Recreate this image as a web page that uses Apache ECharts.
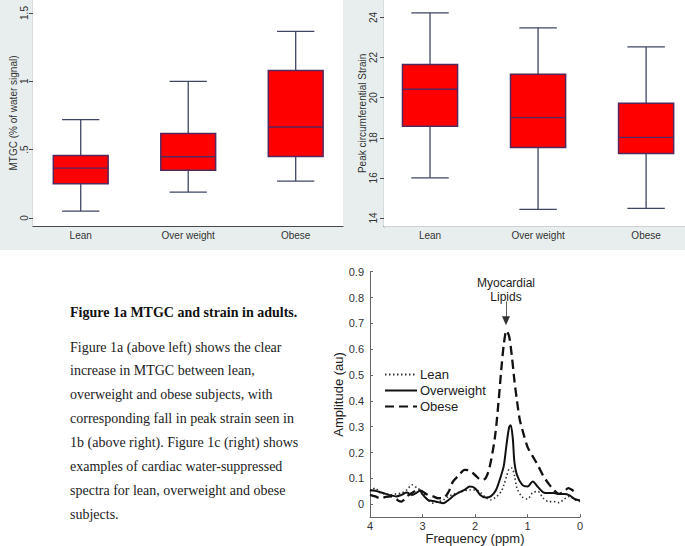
<!DOCTYPE html>
<html><head><meta charset="utf-8">
<script src="https://cdn.jsdelivr.net/npm/echarts@6/dist/echarts.min.js"></script>
<style>html,body{margin:0;padding:0;background:#fff}#c{width:685px;height:546px}</style>
</head><body><div id="c"></div>
<script>
// ---- data ----
const categories = ['Lean', 'Over weight', 'Obese'];
// Fig 1a: MTGC (% of water signal)
const mtgcLow  = [0.05, 0.19, 0.27];
const mtgcQ1   = [0.25, 0.35, 0.45];
const mtgcMed  = [0.365, 0.448, 0.666];
const mtgcQ3   = [0.457, 0.619, 1.079];
const mtgcHigh = [0.72, 1.0, 1.365];
const mtgcTicks = [0, 0.5, 1, 1.5];
const mtgcTickLabels = ['0', '.5', '1', '1.5'];
// Fig 1b: Peak circumferential strain
const strainLow  = [16.0, 14.43, 14.48];
const strainQ1   = [18.58, 17.52, 17.22];
const strainMed  = [20.42, 19.0, 18.02];
const strainQ3   = [21.65, 21.17, 19.72];
const strainHigh = [24.23, 23.48, 22.53];
const strainTicks = [14, 16, 18, 20, 22, 24];
// Fig 1c: spectra
const spectrumNames = ['Lean', 'Overweight', 'Obese'];
const ampTicks = [0, 0.1, 0.2, 0.3, 0.4, 0.5, 0.6, 0.7, 0.8, 0.9];
const leanPpm = [4.0,3.9,3.8,3.7,3.6,3.5,3.4,3.3,3.2,3.1,3.0,2.9,2.8,2.7,2.6,2.5,2.4,2.3,2.2,2.1,2.0,1.9,1.8,1.7,1.6,1.5,1.45,1.4,1.35,1.3,1.25,1.2,1.1,1.0,0.9,0.8,0.7,0.6,0.5,0.4,0.3,0.2,0.1,0.0];
const leanAmp = [0.049,0.062,0.043,0.040,0.036,0.040,0.043,0.055,0.075,0.062,0.049,0.017,0.004,0.010,0.017,0.030,0.039,0.046,0.052,0.055,0.055,0.046,0.026,0.017,0.028,0.049,0.075,0.107,0.136,0.140,0.113,0.062,0.028,0.020,0.045,0.049,0.023,0.010,0.010,0.006,0.020,0.030,0.017,0.010];
const owPpm = [4.0,3.9,3.8,3.7,3.6,3.5,3.4,3.3,3.2,3.1,3.05,3.0,2.9,2.8,2.7,2.6,2.5,2.4,2.3,2.2,2.1,2.0,1.9,1.8,1.7,1.6,1.5,1.45,1.4,1.35,1.32,1.28,1.25,1.2,1.1,1.0,0.9,0.8,0.7,0.6,0.5,0.4,0.3,0.2,0.1,0.0];
const owAmp = [0.055,0.052,0.046,0.040,0.034,0.030,0.036,0.045,0.036,0.046,0.053,0.038,0.017,0.012,0.008,0.004,0.017,0.034,0.046,0.055,0.068,0.062,0.036,0.026,0.030,0.055,0.113,0.150,0.230,0.298,0.306,0.255,0.165,0.113,0.075,0.068,0.088,0.066,0.046,0.043,0.043,0.039,0.039,0.034,0.020,0.014];
const obPpm = [4.0,3.9,3.8,3.7,3.6,3.5,3.45,3.4,3.3,3.2,3.1,3.0,2.9,2.8,2.7,2.6,2.5,2.42,2.3,2.2,2.1,2.0,1.88,1.8,1.72,1.62,1.55,1.5,1.45,1.4,1.35,1.3,1.25,1.2,1.15,1.1,1.0,0.9,0.8,0.7,0.6,0.5,0.4,0.3,0.22,0.15,0.07];
const obAmp = [0.036,0.030,0.023,0.028,0.030,0.020,0.012,0.010,0.030,0.043,0.055,0.049,0.036,0.030,0.023,0.024,0.049,0.087,0.113,0.133,0.130,0.113,0.094,0.100,0.145,0.260,0.400,0.520,0.620,0.672,0.650,0.577,0.480,0.400,0.330,0.290,0.222,0.185,0.150,0.110,0.080,0.055,0.040,0.050,0.062,0.055,0.044];
// caption text
const captionTitle = 'Figure 1a MTGC and strain in adults.';
const captionLines = [
  'Figure 1a (above left) shows the clear',
  'increase in MTGC between lean,',
  'overweight and obese subjects, with',
  'corresponding fall in peak strain seen in',
  '1b (above right). Figure 1c (right) shows',
  'examples of cardiac water-suppressed',
  'spectra for lean, overweight and obese',
  'subjects.'
];

// ---- build ----
const SANS = '"Liberation Sans", Arial, sans-serif';
const SERIF = '"Liberation Serif", "Times New Roman", serif';
const boxFill = '#ff0000', boxEdge = '#54285c', whisk = '#3e4663';

function boxData(lo, q1, md, q3, hi) {
  return categories.map((c, i) => [i + 1, lo[i], q1[i], md[i], q3[i], hi[i]]);
}
function renderBox(params, api) {
  const x = api.value(0);
  const lo = api.coord([x, api.value(1)]);
  const q1 = api.coord([x, api.value(2)]);
  const md = api.coord([x, api.value(3)]);
  const q3 = api.coord([x, api.value(4)]);
  const hi = api.coord([x, api.value(5)]);
  const cx = lo[0];
  const hw = api.size([0.51, 0])[0] / 2;
  const cw = hw * 0.68;
  const ws = { stroke: whisk, lineWidth: 1.3 };
  return { type: 'group', children: [
    { type: 'line', shape: { x1: cx, y1: q3[1], x2: cx, y2: hi[1] }, style: ws },
    { type: 'line', shape: { x1: cx - cw, y1: hi[1], x2: cx + cw, y2: hi[1] }, style: ws },
    { type: 'line', shape: { x1: cx, y1: q1[1], x2: cx, y2: lo[1] }, style: ws },
    { type: 'line', shape: { x1: cx - cw, y1: lo[1], x2: cx + cw, y2: lo[1] }, style: ws },
    { type: 'rect', shape: { x: cx - hw, y: q3[1], width: 2 * hw, height: q1[1] - q3[1] },
      style: { fill: boxFill, stroke: boxEdge, lineWidth: 1.5 } },
    { type: 'line', shape: { x1: cx - hw, y1: md[1], x2: cx + hw, y2: md[1] },
      style: { stroke: boxEdge, lineWidth: 1.3 } }
  ]};
}
function pairs(xs, ys) { return xs.map((x, i) => [x, ys[i]]); }

const boxXAxis = (idx, min, max) => ({
  gridIndex: idx, type: 'value', min: min, max: max,
  axisLine: { show: true, onZero: false, lineStyle: { color: '#4a4a4a', width: 1.2 } },
  axisTick: { show: false },
  splitLine: { show: false },
  axisLabel: { customValues: [1, 2, 3], formatter: v => categories[Math.round(v) - 1],
    color: '#333', fontFamily: SANS, fontSize: 10, margin: 4 }
});
const boxYAxis = (idx, min, max, ticks, fmt, name, gap, margin) => ({
  gridIndex: idx, type: 'value', min: min, max: max,
  name: name, nameLocation: 'middle', nameGap: gap,
  nameTextStyle: { color: '#333', fontFamily: SANS, fontSize: 10 },
  axisLine: { show: true, onZero: false, lineStyle: { color: '#4a4a4a', width: 1.2 } },
  axisTick: { show: true, customValues: ticks, length: 4, lineStyle: { color: '#4a4a4a' } },
  axisLabel: { customValues: ticks, formatter: fmt, rotate: 90, color: '#333',
    fontFamily: SANS, fontSize: 10, margin: margin },
  splitLine: { show: true, lineStyle: { color: '#dde5e6', type: [3, 2], width: 1 } }
});

const graphics = [
  { type: 'rect', z: -100, silent: true, shape: { x: 0, y: 0, width: 685, height: 250 }, style: { fill: '#e8eeee' } },
  { type: 'text', x: 70, y: 312, style: { text: captionTitle, font: 'bold 14px ' + SERIF, fill: '#111', verticalAlign: 'middle' } }
];
captionLines.forEach((t, i) => {
  graphics.push({ type: 'text', x: 70, y: 347 + i * 23.9,
    style: { text: t, font: '14px ' + SERIF, fill: '#222', verticalAlign: 'middle' } });
});

const option = {
  backgroundColor: '#ffffff',
  animation: false,
  graphic: { elements: graphics },
  grid: [
    { left: 33, top: 0, width: 310, height: 226, show: true, backgroundColor: '#fff', borderWidth: 0, z: 1 },
    { left: 384, top: 0, width: 301, height: 226.7, show: true, backgroundColor: '#fff', borderWidth: 0, z: 1 },
    { left: 370, top: 271.7, width: 210, height: 246.3 }
  ],
  xAxis: [
    boxXAxis(0, 0.556, 3.44),
    boxXAxis(1, 0.574, 3.36),
    { gridIndex: 2, type: 'value', inverse: true, min: 0, max: 4, interval: 1,
      name: 'Frequency (ppm)', nameLocation: 'middle', nameGap: 8,
      nameTextStyle: { color: '#222', fontFamily: SANS, fontSize: 13 },
      axisLine: { show: true, onZero: false, lineStyle: { color: '#666', width: 1 } },
      axisTick: { show: true, inside: true, length: 3, lineStyle: { color: '#666' } },
      axisLabel: { color: '#333', fontFamily: SANS, fontSize: 11, margin: 3 },
      splitLine: { show: false } }
  ],
  yAxis: [
    boxYAxis(0, -0.0585, 1.595, mtgcTicks, v => mtgcTickLabels[mtgcTicks.indexOf(v)] ?? String(v), 'MTGC (% of water signal)', 13, 4),
    boxYAxis(1, 13.565, 24.87, strainTicks, v => String(v), 'Peak circumferential Strain', 15, 6),
    { gridIndex: 2, type: 'value', min: -0.05, max: 0.9,
      name: 'Amplitude (au)', nameLocation: 'middle', nameGap: 19,
      nameTextStyle: { color: '#222', fontFamily: SANS, fontSize: 13 },
      axisLine: { show: true, onZero: false, lineStyle: { color: '#666', width: 1 } },
      axisTick: { show: true, inside: true, length: 3, customValues: ampTicks, lineStyle: { color: '#666' } },
      axisLabel: { customValues: ampTicks, formatter: v => String(v), color: '#333', fontFamily: SANS, fontSize: 11, margin: 6 },
      splitLine: { show: false } }
  ],
  legend: {
    data: spectrumNames, orient: 'vertical', left: 379, top: 363,
    itemWidth: 32, itemHeight: 12, itemGap: 3,
    itemStyle: { opacity: 0 },
    textStyle: { color: '#222', fontFamily: SANS, fontSize: 13, padding: [0, 0, 0, -2] }
  },
  series: [
    { type: 'custom', xAxisIndex: 0, yAxisIndex: 0, renderItem: renderBox,
      data: boxData(mtgcLow, mtgcQ1, mtgcMed, mtgcQ3, mtgcHigh), encode: { x: 0, y: [1, 2, 3, 4, 5] }, z: 3 },
    { type: 'custom', xAxisIndex: 1, yAxisIndex: 1, renderItem: renderBox,
      data: boxData(strainLow, strainQ1, strainMed, strainQ3, strainHigh), encode: { x: 0, y: [1, 2, 3, 4, 5] }, z: 3 },
    { name: 'Lean', type: 'line', xAxisIndex: 2, yAxisIndex: 2, data: pairs(leanPpm, leanAmp),
      smooth: 0.3, symbol: 'none', lineStyle: { color: '#333', width: 1.6, type: [1.5, 2.5] }, itemStyle: { color: '#333' } },
    { name: 'Overweight', type: 'line', xAxisIndex: 2, yAxisIndex: 2, data: pairs(owPpm, owAmp),
      smooth: 0.3, symbol: 'none', lineStyle: { color: '#111', width: 2, type: 'solid' }, itemStyle: { color: '#111' } },
    { name: 'Obese', type: 'line', xAxisIndex: 2, yAxisIndex: 2, data: pairs(obPpm, obAmp),
      smooth: 0.3, symbol: 'none', lineStyle: { color: '#111', width: 2.3, type: [9, 5] }, itemStyle: { color: '#111' },
      markLine: { silent: true, animation: false, symbol: ['none', 'triangle'], symbolSize: [8, 9],
        lineStyle: { color: '#333', width: 0.8, type: 'solid' },
        label: { show: true, position: 'start', formatter: 'Myocardial\nLipids', color: '#222',
          fontFamily: SANS, fontSize: 12, lineHeight: 14, distance: 3, offset: [0, 6] },
        data: [[{ coord: [1.41, 0.785] }, { coord: [1.41, 0.71] }]] } }
  ]
};
const chart = echarts.init(document.getElementById('c'), null, { renderer: 'svg', width: 685, height: 546 });
chart.setOption(option);
</script></body></html>
